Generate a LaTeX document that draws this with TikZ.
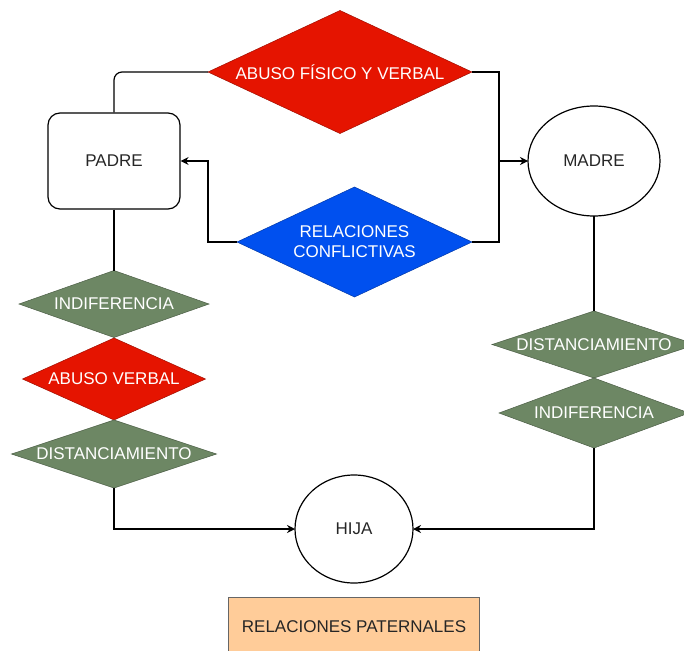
\documentclass[tikz,border=0pt]{standalone}
\usepackage{fontspec}
\setmainfont{Liberation Sans}
\usetikzlibrary{shapes.geometric,arrows.meta}
\definecolor{rojo}{HTML}{E51400}
\definecolor{azul}{HTML}{0050EF}
\definecolor{verde}{HTML}{6D8764}
\definecolor{naranja}{HTML}{FFCC99}

\begin{document}
\begin{tikzpicture}[x=1pt,y=-1pt,line width=1.2pt,
        font=\fontsize{17}{20}\selectfont,text=black!85,
        rombo/.style n args={3}{diamond,fill=#1,draw=#1!70!black,line width=0.5pt,
            inner sep=0pt,outer sep=0pt,minimum width=#2,minimum height=#3},
        rlab/.style={text=white,align=center},
        caja/.style={draw,rounded corners=12pt,minimum width=132pt,minimum height=96pt},
        circ/.style={draw,ellipse,inner sep=0pt,outer sep=0pt},
        flecha/.style={-{Stealth[length=8pt,width=8pt]}}]
    \useasboundingbox (0,0) rectangle (684,650);
    \node[caja] (padre) at (114,161) {PADRE};
    \node[circ,minimum width=132pt,minimum height=110pt] (madre) at (594,161) {MADRE};
    \node[circ,minimum width=118pt,minimum height=108pt] (hija) at (354,529) {HIJA};
    \node[rombo={rojo}{264pt}{123pt},label={[rlab]center:ABUSO FÍSICO Y VERBAL}] (afv) at (340,72) {};
    \node[rombo={azul}{235pt}{110pt},label={[rlab]center:{RELACIONES\\CONFLICTIVAS}}] (rel) at (354.5,242) {};
    \node[rombo={verde}{190pt}{67pt},label={[rlab]center:INDIFERENCIA}] (ind1) at (114,304) {};
    \node[rombo={rojo}{183pt}{82pt},label={[rlab]center:ABUSO VERBAL}] (abv) at (114,379) {};
    \node[rombo={verde}{205pt}{68pt},label={[rlab]center:DISTANCIAMIENTO}] (dis1) at (114,454) {};
    \node[rombo={verde}{204pt}{67pt},label={[rlab]center:DISTANCIAMIENTO}] (dis2) at (594,344.5) {};
    \node[rombo={verde}{190pt}{70pt},label={[rlab]center:INDIFERENCIA}] (ind2) at (594,413) {};
    \node[draw=black!60,fill=naranja,line width=0.8pt,minimum width=251pt,minimum height=60pt] (leyenda) at (354,627) {RELACIONES PATERNALES};
    \coordinate (cr) at (499,161);
    \coordinate (cl) at (208,161);
    \draw[rounded corners=8pt] (padre.north) |- (afv.west);
    \draw[flecha] (afv.east) -| (cr) -- (madre.west);
    \draw (rel.east) -| (cr);
    \draw[flecha] (rel.west) -| (cl) -- (padre.east);
    \draw (padre.south) -- (ind1.north);
    \draw (madre.south) -- (dis2.north);
    \draw[flecha] (dis1.south) |- (hija.west);
    \draw[flecha] (ind2.south) |- (hija.east);
\end{tikzpicture}
\end{document}
